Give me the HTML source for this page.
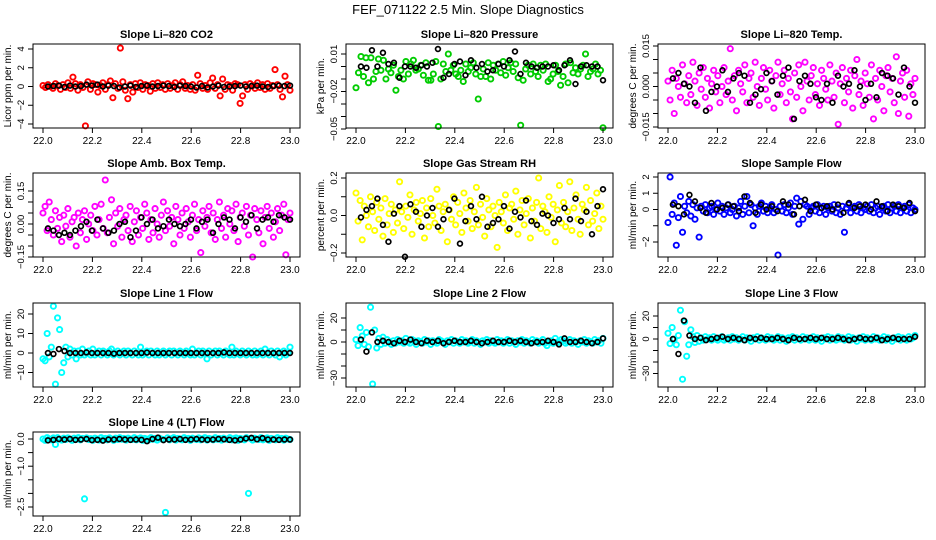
<!DOCTYPE html>
<html><head><meta charset="utf-8"><style>
html,body{margin:0;padding:0;background:#fff}
svg{display:block;font-family:"Liberation Sans",sans-serif}
</style></head><body>
<svg id="c" width="936" height="540">
<text x="468" y="14" text-anchor="middle" font-size="13">FEF_071122  2.5 Min. Slope Diagnostics</text>
</svg>
<script>
const xTicks=[22.0,22.2,22.4,22.6,22.8,23.0];
const xTickLabels=["22.0","22.2","22.4","22.6","22.8","23.0"];
const xStart=22.0, xEnd=23.0;

const co2Color=[.1,-.1,.2,0,-.2,.3,.1,-.3,.2,-.1,.4,-.2,1.0,.3,-.4,.2,-.1,-4.2,.5,-.3,.3,.2,-.6,.1,.4,-.3,.2,.6,-1.2,.3,-.2,4.1,.5,-.4,-1.3,.2,-.6,.3,-.1,.4,-.3,.2,.1,-.5,.3,-.2,.4,-.1,.2,-.3,.3,-.2,.1,.4,-.3,.2,.5,-.2,.1,-.3,.2,-.4,1.2,.3,-.2,.1,-.3,.4,.9,-.2,.2,-1.0,.8,-.3,.2,.1,-.4,.3,.2,-1.8,-1.0,.2,-.3,.3,.1,-.2,.4,-.1,.2,-.3,.3,-.2,.1,1.8,.2,-.3,-1.1,1.1,.2,-.4];
const co2Black=[0,.05,.1,-.05,.1,0,.05,.2,.1,.2,0,.1,.05,-.1,0,.1,-.05,.05,.1,0,.05,.1,.05,-.05,.1,.05,0,-.1,.05,-.1,0,.1,-.05,0,.05,.1,0,.05,.1,0,-.05,.05,.1,.05,.1];

const presColor=[-.017,-.005,.008,-.008,.007,-.013,.007,-.010,-.004,.006,-.003,.005,-.010,-.002,-.005,.001,-.019,-.008,-.003,-.010,.004,-.006,.002,.005,-.003,-.002,.001,-.007,.003,-.011,-.011,-.006,.004,-.048,-.010,.002,-.004,.010,-.003,.001,-.006,-.008,-.003,-.012,.002,-.004,-.001,.003,-.006,-.026,-.008,-.002,-.008,.003,-.010,.001,-.003,.002,-.005,.004,-.007,-.001,.003,-.004,.002,-.009,-.047,-.011,-.002,.001,-.006,.002,-.004,-.008,.001,-.003,.002,-.012,-.010,-.006,.001,-.004,-.015,-.008,.002,-.013,.003,-.005,-.001,-.006,-.002,.001,.010,-.008,-.004,-.002,.002,-.006,-.003,-.049];
const presBlack=[0,-.001,.013,0,.011,.002,.003,-.009,0,0,-.001,.001,0,.003,.014,-.009,-.006,.002,.004,-.007,.005,-.001,.002,-.004,-.003,.002,0,.005,.012,-.006,.003,0,-.001,0,0,.001,-.003,.001,.005,-.014,0,.001,0,0,-.011];

const tempColor=[.002,-.005,.006,-.010,.003,.000,-.004,.008,.001,-.006,.004,-.003,.009,.002,-.007,.005,-.001,.007,-.004,.003,-.008,.001,.006,-.002,.004,-.006,.000,.007,-.003,.002,.014,-.005,.004,-.009,.006,.001,-.002,.008,-.006,.003,.005,-.004,.009,.000,-.007,.003,.007,-.001,-.005,.006,.002,-.008,.004,.009,-.003,.001,.006,-.006,.003,-.002,-.012,.005,-.004,.008,.000,-.009,.009,.002,-.005,.004,.007,-.003,.001,-.007,.006,.003,-.001,-.005,.008,.002,-.004,.005,-.014,.001,.007,-.006,.003,-.002,.006,-.008,.004,.010,-.003,.002,-.007,.005,.001,-.004,.008,-.012,.003,-.005,.006,.000,-.009,.004,.007,-.002,.003,-.006,.011,-.010,.002,.005,-.004,.006,-.011,.001,-.003,.003];
const tempBlack=[.003,.005,.001,.000,-.006,.007,-.009,-.002,.000,.006,-.002,.003,.005,.004,-.006,-.003,-.001,.005,.002,-.003,.004,.007,-.012,.002,.004,.001,-.004,-.005,.001,-.006,.004,.000,.001,.006,.000,-.005,.001,-.004,.005,.004,.003,-.003,.007,.000,-.006];

const ambColor=[.05,.08,-.03,.10,.02,-.05,.06,-.02,.03,-.08,.04,-.01,.07,-.06,.01,.03,-.10,.05,-.04,.02,.06,-.07,.00,.04,-.03,.08,-.05,.02,.09,-.02,.20,-.04,.03,.11,-.09,.05,-.01,.07,-.06,.02,.04,-.03,.08,-.08,.01,.06,-.05,.03,-.02,.09,.05,-.07,.02,-.04,.07,.00,-.06,.04,.10,-.03,.06,-.01,.03,-.09,.08,.02,-.05,.05,-.02,.07,.01,-.06,.04,.09,-.03,.02,-.13,.06,-.01,.03,.08,-.04,.05,-.07,.02,.10,-.02,.04,-.06,.07,.00,.06,-.03,.09,-.08,.03,.05,-.01,.08,-.05,.04,-.15,.07,.02,-.04,.06,-.09,.03,.08,-.02,.05,-.06,.01,.07,-.03,.04,.09,-.14,.02,.05];
const ambBlack=[-.02,-.03,-.05,-.04,-.05,-.03,-.01,.01,-.03,.02,-.02,-.04,-.03,.00,.01,-.06,-.03,.03,.00,.02,-.02,-.01,.02,.00,-.01,.00,.02,-.02,.01,.02,-.04,.00,.03,.02,-.02,.03,.01,.04,-.02,.02,.03,.01,.04,.03,.02];

const rhColor=[.12,-.03,.08,-.13,.05,.00,-.06,.10,.02,-.08,.07,-.02,.04,-.11,.09,-.05,.01,.06,-.09,.03,-.04,.18,.02,-.07,.05,-.01,.11,-.10,.03,.07,-.03,.01,.08,-.12,.04,-.06,.09,.00,-.04,.14,.05,-.08,.02,.06,-.14,.03,-.02,.10,-.05,.07,.01,-.09,.12,.04,-.03,.08,-.07,.02,.15,-.05,.06,-.01,-.11,.09,.03,-.06,.05,.00,-.17,.07,.02,-.04,.11,-.08,.04,.06,-.02,.13,-.10,.03,.08,-.05,.01,.09,-.12,.04,-.03,.07,.20,-.07,.05,.02,-.09,.10,-.01,.06,-.14,.03,.16,-.04,.07,-.06,.02,.18,-.08,.04,.11,-.02,-.10,.06,.03,.15,-.05,.08,-.03,.01,.12,-.07,.05,-.02];
const rhBlack=[-.01,.03,.05,.09,-.05,-.14,.01,.05,-.22,.06,.02,-.06,.00,.04,-.06,-.02,.03,.09,-.15,-.03,.05,-.02,.10,-.06,-.04,-.02,.05,-.07,.02,-.01,.08,-.03,-.05,.01,.00,-.04,-.02,.04,-.02,.09,-.03,.02,-.10,.05,.14];

const flowColor=[-.8,2.0,-.3,.4,-2.2,-.5,.8,-1.4,.2,-.2,.5,-.4,.3,-.6,.1,-1.7,.2,-.1,.3,-.2,.1,.2,-.3,.0,.4,-.1,.2,-.3,.1,.3,-.2,.0,.2,-.4,.1,.5,-.3,.2,.8,-.2,.3,-1.0,.1,-.3,.2,.4,-.1,.2,-.2,.1,.3,-.2,.0,-2.8,.2,-.1,.3,-.2,.1,.4,-.3,.2,.7,-.9,.5,-.6,.3,.2,-.3,.1,.2,-.1,.3,-.2,.1,.2,-.3,.1,.2,-.1,.3,-.2,.1,-.3,.2,-1.4,.1,.3,-.2,.1,.2,-.1,.3,-.2,.1,.0,.2,-.1,.3,-.2,.1,.2,-.3,.1,.2,-.1,.3,-.2,.1,.2,-.1,.3,-.2,.1,.2,-.1,.3,-.2,.1,.0];
const flowBlack=[.3,.2,-.3,.9,.5,.1,-.2,.4,.0,.1,.3,.2,-.1,.8,.4,-.2,.3,.0,.2,-.1,.5,.3,-.3,.2,.6,-.1,.3,.1,.2,.0,.3,-.2,.4,.1,.2,.3,.0,.5,.2,-.1,.3,.2,.1,.4,-.1];

const l1Color=[-3,-4,10,-2,3,24,-16,18,12,-10,-5,3,-2,2,-1,1,-3,1,-1,2,-1,0,1,-1,2,-1,0,1,-1,1,0,-1,1,2,-1,0,1,-1,0,1,-1,1,0,-1,1,0,-1,3,-1,0,1,-1,1,0,-1,1,-1,0,1,-1,0,1,-1,1,0,-1,1,0,-1,1,0,-1,2,-1,0,1,-1,1,0,-3,1,-1,0,1,-1,1,0,-1,1,0,-1,3,-1,1,0,-1,1,0,-1,1,0,-1,1,-1,0,1,-1,2,0,-1,1,0,-1,1,-2,0,1,-1,0,3];
const l1Black=[0,-.5,2,1,0,0,0,.3,0,0,0,0,-.3,0,0,0,0,0,.2,0,0,0,0,0,0,0,0,0,0,0,0,0,.3,0,0,0,0,0,0,0,0,0,0,0,0];

const l2Color=[2,-3,12,5,-2,8,-4,29,-35,10,-5,3,-2,4,-1,2,0,-2,1,-1,2,0,1,-1,3,0,-1,2,1,-2,1,0,-1,2,0,1,-2,1,0,-1,2,1,0,-2,1,0,2,-1,1,0,-1,2,0,1,-1,0,2,-1,1,0,-2,1,0,2,-1,1,0,-1,2,0,1,-1,0,2,-1,1,0,-2,1,0,2,-1,1,0,-1,2,0,1,-1,0,2,-1,-3,0,1,-1,3,0,-1,2,1,-1,0,2,-1,1,0,-2,1,0,2,-1,1,0,-1,2,0,1,-1,3];
const l2Black=[2,-8,8,0,1,0,-1,1,0,2,0,-1,1,0,1,-1,0,1,0,0,1,0,-1,0,1,0,0,1,0,1,0,-1,0,0,1,0,-2,3,0,0,1,0,-1,0,3];

const l3Color=[5,-4,10,0,-5,3,25,-35,15,-15,-5,8,2,-3,3,-2,1,-1,2,0,1,-1,2,0,-1,1,2,-1,0,1,-1,2,0,1,-1,0,2,-1,1,0,-2,1,0,2,-1,1,0,-1,2,0,1,-1,0,2,-1,1,0,-2,1,0,2,-1,1,0,-1,2,0,1,-1,0,2,-1,1,0,-2,1,0,2,-1,1,0,-1,2,0,1,-1,0,2,-1,1,0,-2,1,0,2,-1,1,0,-1,2,0,1,-1,0,2,-1,1,0,-2,1,0,2,-1,1,0,-1,2,0,1,3];
const l3Black=[0,-13,16,3,0,1,-1,0,1,2,0,1,0,-1,1,0,1,0,0,1,0,-1,1,0,0,1,0,1,0,0,1,0,-1,0,1,0,0,1,-1,0,1,0,0,0,2];

const l4Color=[0,-.05,.05,0,-.03,.04,-.2,.05,0,-.04,.03,-.02,.04,0,-.05,.03,-.01,.05,-.03,.02,-2.2,.04,-.02,.01,-.05,.03,0,-.04,.05,-.01,.02,-.03,.04,0,-.05,.03,-.02,.05,-.01,.02,-.04,.03,0,-.02,.05,-.03,.01,.04,-.05,.02,0,-.03,.05,-.01,.02,-.04,.03,0,-.02,-2.7,.04,-.03,.01,.05,-.04,.02,0,-.03,.05,-.01,.02,-.05,.03,0,-.02,.04,-.03,.01,.05,-.04,.02,0,-.03,.05,-.01,.02,-.04,.03,0,-.02,.05,-.03,.01,.04,-.05,.02,0,-.03,.05,-2.0,.02,-.04,.03,0,-.02,.05,-.03,.01,.04,-.05,.02,0,-.03,.05,-.01,.02,-.04,.03,0,-.02];
const l4Black=[-.05,-.03,0,-.02,0,-.03,-.02,0,-.04,-.03,-.06,-.02,-.02,0,-.02,-.03,-.02,-.03,-.08,0,.05,-.04,-.02,-.02,0,-.03,-.02,0,-.02,-.03,-.02,0,-.01,-.03,-.05,-.02,.02,.04,-.01,.03,-.02,-.02,-.03,-.02,-.02];

const svg=document.getElementById('c');
const NS='http://www.w3.org/2000/svg';
function mk(tag,attrs,parent){const e=document.createElementNS(NS,tag);for(const k in attrs)e.setAttribute(k,attrs[k]);(parent||svg).appendChild(e);return e;}

const cols=[33,346,658], rows=[44,173,303,432], W=267, H=84;
const panels=[
 {slug:'co2',title:'Slope Li\u2013820 CO2',ylab:'Licor ppm per min.',c:0,r:0,col:'#ff0000',data:co2Color,blk:co2Black,a:[4,49],b:[-4,124],ticks:[-4,-2,0,2,4],labels:['\u22124','\u22122','0','2','4'],lt:[-4,-2,0,2,4]},
 {slug:'pressure',title:'Slope Li\u2013820 Pressure',ylab:'kPa per min.',c:1,r:0,col:'#00cc00',data:presColor,blk:presBlack,a:[.01,54],b:[0,66.5],ticks:[.01,0,-.01,-.02,-.03,-.04,-.05],labels:['0.01','\u22120.02','\u22120.05'],lt:[.01,-.02,-.05]},
 {slug:'temp',title:'Slope Li\u2013820 Temp.',ylab:'degrees C per min.',c:2,r:0,col:'#ff00ff',data:tempColor,blk:tempBlack,a:[0,86.5],b:[.015,46],ticks:[-.015,-.01,-.005,0,.005,.01,.015],labels:['\u22120.015','0.000','0.015'],lt:[-.015,0,.015]},
 {slug:'amb-temp',title:'Slope Amb. Box Temp.',ylab:'degrees C per min.',c:0,r:1,col:'#ff00ff',data:ambColor,blk:ambBlack,a:[0,224],b:[.15,191],ticks:[-.15,-.1,-.05,0,.05,.1,.15],labels:['\u22120.15','0.00','0.15'],lt:[-.15,0,.15]},
 {slug:'rh',title:'Slope Gas Stream RH',ylab:'percent per min.',c:1,r:1,col:'#ffff00',data:rhColor,blk:rhBlack,a:[.2,178],b:[-.2,253],ticks:[-.2,-.1,0,.1,.2],labels:['\u22120.2','0.0','0.2'],lt:[-.2,0,.2]},
 {slug:'sample-flow',title:'Slope Sample Flow',ylab:'ml/min per min.',c:2,r:1,col:'#0000ff',data:flowColor,blk:flowBlack,a:[2,177],b:[-2,242],ticks:[-2,-1,0,1,2],labels:['\u22122','0','1','2'],lt:[-2,0,1,2]},
 {slug:'line1',title:'Slope Line 1 Flow',ylab:'ml/min per min.',c:0,r:2,col:'#00ffff',data:l1Color,blk:l1Black,a:[20,314],b:[0,353],ticks:[-10,0,10,20],labels:['\u221210','0','10','20'],lt:[-10,0,10,20]},
 {slug:'line2',title:'Slope Line 2 Flow',ylab:'ml/min per min.',c:1,r:2,col:'#00ffff',data:l2Color,blk:l2Black,a:[20,318],b:[0,342],ticks:[-30,-20,-10,0,10,20],labels:['\u221230','0','20'],lt:[-30,0,20]},
 {slug:'line3',title:'Slope Line 3 Flow',ylab:'ml/min per min.',c:2,r:2,col:'#00ffff',data:l3Color,blk:l3Black,a:[20,316],b:[0,339],ticks:[-30,-20,-10,0,10,20],labels:['\u221230','0','20'],lt:[-30,0,20]},
 {slug:'line4',title:'Slope Line 4 (LT) Flow',ylab:'ml/min per min.',c:0,r:3,col:'#00ffff',data:l4Color,blk:l4Black,a:[0,439],b:[-2.5,507],ticks:[-2.5,-2,-1.5,-1,-.5,0],labels:['\u22122.5','\u22121.0','0.0'],lt:[-2.5,-1,0]}
];

panels.forEach(p=>{
  const L=cols[p.c], T=rows[p.r];
  const g=mk('g',{});
  
  
  const xs=v=>L+10+(v-xStart)/(xEnd-xStart)*247;
  const ys=v=>p.a[1]+(v-p.a[0])*(p.b[1]-p.a[1])/(p.b[0]-p.a[0]);
  const t=mk('text',{x:L+W/2,y:T-6,'text-anchor':'middle','font-size':'11','font-weight':'bold'},g);
  t.textContent=p.title;
  
  
  const n=p.data.length;
  p.data.forEach((v,i)=>{
    const xv=xStart+(xEnd-xStart)*i/(n-1);
    const c=mk('circle',{cx:xs(xv),cy:ys(v),r:2.6,fill:'none',stroke:p.col,'stroke-width':1.9},g);
    
    
  });
  const m=p.blk.length;
  p.blk.forEach((v,i)=>{
    const xv=22.02+(xEnd-22.02)*i/(m-1);
    const c=mk('circle',{cx:xs(xv),cy:ys(v),r:2.4,fill:'none',stroke:'#000','stroke-width':1.7},g);
    
    
  });
  mk('rect',{x:L,y:T,width:W,height:H,fill:'none',stroke:'#000','stroke-width':1},g);
  const B=T+H;
  mk('line',{x1:xs(xTicks[0]),x2:xs(xTicks[xTicks.length-1]),y1:B,y2:B,stroke:'#000'},g);
  xTicks.forEach((v,i)=>{
    mk('line',{x1:xs(v),x2:xs(v),y1:B,y2:B+5,stroke:'#000'},g);
    const tx=mk('text',{x:xs(v),y:B+16,'text-anchor':'middle','font-size':'10'},g);
    tx.textContent=xTickLabels[i];
    
    
  });
  const yMin=Math.min(...p.ticks), yMax=Math.max(...p.ticks);
  mk('line',{x1:L,x2:L,y1:ys(yMin),y2:ys(yMax),stroke:'#000'},g);
  p.ticks.forEach(v=>{mk('line',{x1:L-5,x2:L,y1:ys(v),y2:ys(v),stroke:'#000'},g);});
  p.lt.forEach((v,i)=>{
    const X=L-9,Y=ys(v);
    const tx=mk('text',{x:X,y:Y,'text-anchor':'middle','font-size':'9.5',transform:`rotate(-90 ${X} ${Y})`},g);
    tx.textContent=p.labels[i];
    
    
  });
  const YX=L-22, YY=T+H/2;
  const yl=mk('text',{x:YX,y:YY,'text-anchor':'middle','font-size':'10',transform:`rotate(-90 ${YX} ${YY})`},g);
  yl.textContent=p.ylab;
  
  
});
</script>
</body></html>
